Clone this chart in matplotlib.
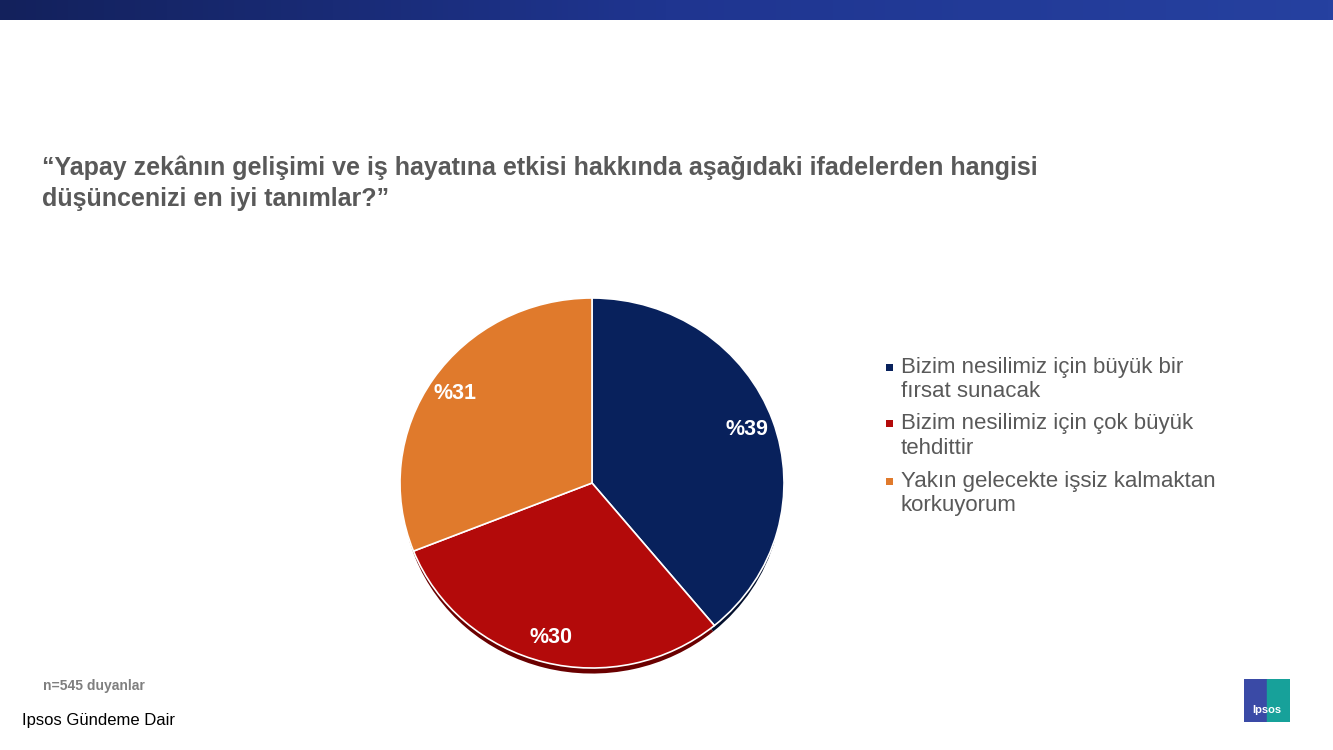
import matplotlib
matplotlib.use('Agg')
import matplotlib.pyplot as plt
import numpy as np
from matplotlib.patches import Rectangle
from matplotlib.colors import LinearSegmentedColormap

plt.rcParams['font.family'] = ['Liberation Sans', 'DejaVu Sans']

# data
categories = ['Bizim nesilimiz için büyük bir\nfırsat sunacak',
              'Bizim nesilimiz için çok büyük\ntehdittir',
              'Yakın gelecekte işsiz kalmaktan\nkorkuyorum']
values = [39, 30, 31]
colors = ['#08215c', '#b30a0a', '#e07a2c']
shadow_colors = ['#03102e', '#6a0000', '#8a4a1a']

title = ('“Yapay zekânın gelişimi ve iş hayatına etkisi hakkında aşağıdaki ifadelerden hangisi\n'
         'düşüncenizi en iyi tanımlar?”')
note = 'n=545 duyanlar'
source = 'Ipsos Gündeme Dair'

W, H = 1333, 750
fig = plt.figure(figsize=(W / 100, H / 100), dpi=100)
fig.patch.set_facecolor('white')

# top gradient bar
bar_ax = fig.add_axes([0, 1 - 20 / H, 1, 20 / H])
grad = np.linspace(0, 1, 256).reshape(1, -1)
bar_cmap = LinearSegmentedColormap.from_list('bar', ['#13215c', '#1f3590', '#2641a0'])
bar_ax.imshow(grad, aspect='auto', cmap=bar_cmap, extent=[0, 1, 0, 1])
bar_ax.axis('off')

# title
fig.text(42 / W, 1 - 155 / H, title, fontsize=18, fontweight='bold', color='#595959',
         va='top', ha='left', linespacing=1.38)

# pie (slightly flattened, like the original)
cx, cy, rx, ry = 592, 483, 192, 185
ax = fig.add_axes([(cx - rx) / W, 1 - (cy + ry) / H, 2 * rx / W, 2 * ry / H])
# shadow
ax.pie(values, colors=shadow_colors, startangle=90, counterclock=False,
       center=(0.0, -0.04), radius=0.99,
       wedgeprops=dict(linewidth=0))
wedges, texts, autotexts = ax.pie(
    values, colors=colors, startangle=90, counterclock=False,
    autopct=lambda p: f'%{p:.0f}', pctdistance=0.86,
    wedgeprops=dict(edgecolor='white', linewidth=1.2),
    textprops=dict(color='white', fontsize=15.5, fontweight='bold'))
for t in autotexts:
    t.set_ha('center')
    t.set_va('center')
ax.set_xlim(-1, 1)
ax.set_ylim(-1, 1)
ax.set_aspect('auto')
ax.axis('off')

# legend: small squares next to the first line of each label
leg_x, leg_y, entry_gap, line_gap = 889, 367, 57, 24.5
for i, (cat, col) in enumerate(zip(categories, colors)):
    y0 = leg_y + entry_gap * i
    fig.patches.append(Rectangle(((leg_x - 3.5) / W, 1 - (y0 + 3.5) / H), 7 / W, 7 / H,
                                 transform=fig.transFigure, facecolor=col,
                                 edgecolor='none'))
    for j, line in enumerate(cat.split('\n')):
        fig.text((leg_x + 12) / W, 1 - (y0 + line_gap * j) / H, line, fontsize=16,
                 color='#595959', va='center', ha='left')

# footnotes
fig.text(43 / W, 1 - 686 / H, note, fontsize=10, fontweight='bold', color='#7f7f7f',
         va='center', ha='left')
fig.text(22 / W, 1 - 721 / H, source, fontsize=12, color='black',
         va='center', ha='left')

# logo
logo = fig.add_axes([1244 / W, 1 - 722 / H, 46 / W, 43 / H])
logo.add_patch(Rectangle((0, 0), 0.55, 1, color='#3a4aa6'))
logo.add_patch(Rectangle((0.5, 0), 0.5, 1, color='#17a19a'))
logo.text(0.5, 0.28, 'Ipsos', color='white', fontsize=8, fontweight='bold',
          ha='center', va='center')
logo.set_xlim(0, 1)
logo.set_ylim(0, 1)
logo.axis('off')

fig.savefig('out.png', dpi=100)
